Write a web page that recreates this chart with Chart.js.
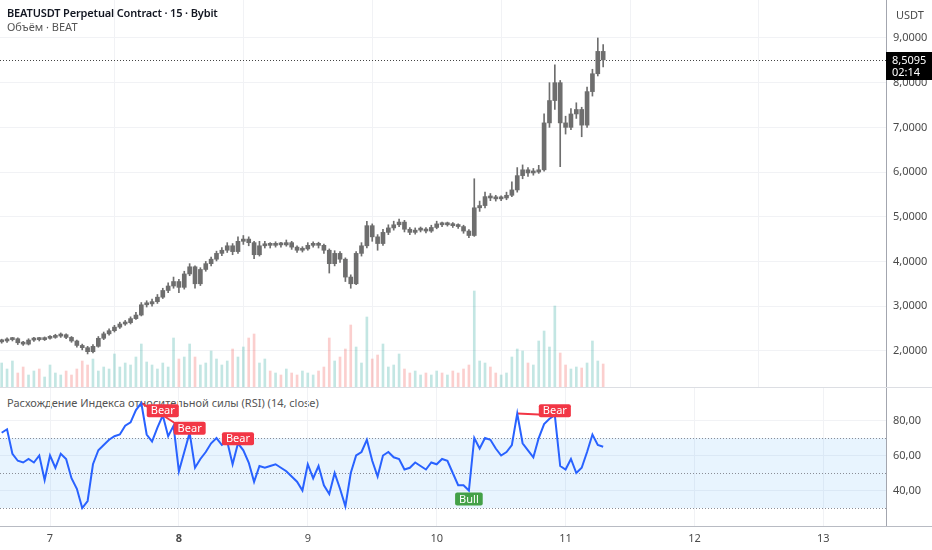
<!DOCTYPE html>
<html lang="ru">
<head>
<meta charset="UTF-8">
<title>BEATUSDT · 15 · Bybit</title>
<style>
  body { margin: 0; background: #fff; width: 932px; height: 550px; overflow: hidden; position: relative; font-family: "Noto Sans", sans-serif; }
  canvas { position: absolute; left: 0; }
  #pricePane { top: 0; }
  #rsiPane { top: 387px; z-index: 2; }
  .legend { position: absolute; left: 7px; font-size: 11px; color: #555; white-space: nowrap; }
  .title { top: 5px; color: #131722; font-weight: 600; letter-spacing: -0.15px; }
  .vol { top: 19px; }
  .rsi { top: 395px; z-index: 1; }
  .unit { position: absolute; left: 896px; top: 7px; font-size: 11px; color: #4a4a4a; }
</style>
<script src="https://cdn.jsdelivr.net/npm/chart.js"></script>
</head>
<body>
<canvas id="pricePane" width="932" height="387"></canvas>
<canvas id="rsiPane" width="932" height="163"></canvas>
<div class="legend title">BEATUSDT Perpetual Contract · 15 · Bybit</div>
<div class="legend vol">Объём · BEAT</div>
<div class="legend rsi">Расхождение Индекса относительной силы (RSI) (14, close)</div>
<div class="unit">USDT</div>

<script>
// свечи по часу, первая — 6-го в 15:00
const startDay = 6.625;
const stepDay = 1 / 24;
const firstOpen = 2.20;

const closePrices = [
  2.22, 2.25, 2.27, 2.18, 2.15, 2.24, 2.27, 2.25, 2.28, 2.30,
  2.33, 2.36, 2.30, 2.22, 2.12, 2.07, 1.98, 2.10, 2.28, 2.38,
  2.45, 2.53, 2.60, 2.63, 2.72, 2.80, 3.03, 3.05, 3.10, 3.20,
  3.35, 3.45, 3.55, 3.42, 3.72, 3.88, 3.50, 3.82, 3.95, 4.05,
  4.18, 4.25, 4.35, 4.22, 4.45, 4.50, 4.42, 4.15, 4.35, 4.38,
  4.36, 4.38, 4.37, 4.42, 4.32, 4.25, 4.28, 4.36, 4.38, 4.36,
  4.25, 3.95, 4.18, 4.05, 3.65, 3.50, 4.18, 4.35, 4.80, 4.55,
  4.40, 4.65, 4.75, 4.82, 4.88, 4.72, 4.65, 4.70, 4.72, 4.68,
  4.76, 4.84, 4.82, 4.84, 4.80, 4.78, 4.68, 4.58, 5.20, 5.25,
  5.45, 5.42, 5.40, 5.42, 5.48, 5.60, 5.92, 6.05, 5.98, 6.00,
  6.05, 7.10, 7.60, 8.00, 7.10, 7.00, 7.30, 7.40, 7.05, 7.80,
  8.20, 8.70, 8.51
];
const highPrices = [
  2.26, 2.29, 2.30, 2.29, 2.21, 2.27, 2.30, 2.30, 2.31, 2.34,
  2.37, 2.40, 2.38, 2.32, 2.24, 2.15, 2.10, 2.14, 2.32, 2.42,
  2.49, 2.57, 2.64, 2.68, 2.76, 2.86, 3.08, 3.12, 3.16, 3.26,
  3.40, 3.52, 3.65, 3.60, 3.78, 3.95, 3.90, 3.86, 4.00, 4.10,
  4.23, 4.31, 4.42, 4.40, 4.55, 4.58, 4.55, 4.45, 4.45, 4.45,
  4.42, 4.44, 4.43, 4.48, 4.45, 4.35, 4.33, 4.42, 4.44, 4.43,
  4.39, 4.28, 4.24, 4.22, 4.08, 3.70, 4.22, 4.42, 4.90, 4.84,
  4.60, 4.72, 4.82, 4.90, 4.95, 4.92, 4.76, 4.75, 4.77, 4.76,
  4.81, 4.90, 4.88, 4.88, 4.87, 4.84, 4.81, 4.71, 5.85, 5.35,
  5.55, 5.52, 5.48, 5.47, 5.55, 5.78, 6.10, 6.16, 6.10, 6.08,
  6.15, 7.30, 8.00, 8.40, 8.05, 7.25, 7.42, 7.55, 7.45, 7.90,
  8.30, 9.00, 8.85
];
const lowPrices = [
  2.17, 2.19, 2.22, 2.14, 2.12, 2.13, 2.21, 2.22, 2.23, 2.26,
  2.28, 2.30, 2.27, 2.19, 2.08, 2.02, 1.93, 1.95, 2.08, 2.25,
  2.35, 2.42, 2.50, 2.57, 2.60, 2.70, 2.78, 2.98, 3.00, 3.06,
  3.17, 3.30, 3.40, 3.30, 3.38, 3.68, 3.40, 3.46, 3.78, 3.90,
  4.01, 4.13, 4.20, 4.15, 4.18, 4.38, 4.35, 4.06, 4.12, 4.30,
  4.30, 4.32, 4.32, 4.34, 4.27, 4.20, 4.21, 4.25, 4.32, 4.30,
  4.18, 3.74, 3.90, 3.98, 3.55, 3.40, 3.48, 4.12, 4.30, 4.45,
  4.25, 4.36, 4.60, 4.70, 4.78, 4.66, 4.60, 4.61, 4.66, 4.64,
  4.65, 4.73, 4.78, 4.79, 4.76, 4.74, 4.63, 4.53, 4.56, 5.12,
  5.20, 5.36, 5.35, 5.36, 5.38, 5.45, 5.55, 5.85, 5.90, 5.93,
  5.97, 6.02, 7.00, 7.40, 6.12, 6.85, 6.95, 7.20, 6.79, 7.00,
  7.70, 8.15, 8.35
];
// объём, млн BEAT
const volumes = [
  2.4, 1.8, 2.6, 1.4, 2.0, 1.2, 1.6, 1.8, 1.0, 2.2,
  1.4, 1.2, 1.6, 1.2, 1.8, 2.6, 2.2, 2.8, 1.6, 2.0,
  1.8, 3.3, 2.0, 2.4, 2.2, 3.0, 4.3, 2.5, 2.2, 1.8,
  2.4, 2.0, 4.9, 2.8, 3.0, 4.3, 3.0, 2.2, 2.4, 3.6,
  2.8, 2.2, 2.6, 3.8, 3.0, 4.0, 4.9, 5.3, 2.4, 2.8,
  1.6, 1.4, 1.2, 1.8, 1.4, 1.2, 1.6, 1.4, 1.2, 1.6,
  2.0, 4.9, 2.6, 3.0, 3.8, 6.2, 4.0, 2.4, 7.0, 2.8,
  3.2, 4.3, 2.0, 2.2, 3.3, 1.8, 1.4, 1.6, 1.2, 1.4,
  1.2, 1.6, 1.4, 1.2, 1.6, 1.4, 1.8, 2.2, 9.6, 2.6,
  2.4, 2.0, 1.4, 1.2, 1.4, 3.0, 3.8, 3.6, 2.4, 2.2,
  4.6, 5.6, 4.0, 8.1, 3.4, 2.2, 1.8, 2.0, 1.9, 2.4,
  4.6, 2.6, 2.3
];
const rsiValues = [
  73, 75, 61, 57, 56, 58, 56, 60, 46, 60,
  53, 61, 58, 47, 41, 30, 34, 55, 63, 66,
  69, 71, 72, 77, 79, 86, 90, 72, 68, 76,
  83, 71, 77, 51, 62, 73, 53, 58, 62, 67,
  70, 66, 68, 55, 67, 63, 56, 45, 54, 53,
  54, 55, 53, 51, 48, 45, 40, 55, 47, 54,
  43, 38, 50, 41, 31, 50, 60, 62, 69, 57,
  48, 60, 62, 59, 58, 52, 53, 56, 54, 52,
  56, 55, 58, 57, 50, 43, 43, 40, 70, 64,
  70, 69, 64, 60, 62, 66, 84, 67, 63, 59,
  70, 78, 81, 83, 54, 52, 58, 50, 53, 62,
  72, 66, 65
];

const dayTicks = [7, 8, 9, 10, 11, 12, 13];
const priceTicks = [2, 3, 4, 5, 6, 7, 8, 9];
const rsiTicks = [40, 60, 80];
const rsiLevels = [70, 50, 30];
const lastPrice = 8.5095;
const lastPriceTimer = '02:14';
// дивергенции: индексы свечей
const bearLines = [[26, 30], [30, 35], [96, 103]];
const bearLabels = [30, 35, 44, 103];
const bullLabels = [87];

const FONT = '"Noto Sans", sans-serif';
const AXIS_W = 46;
const GRID = '#f1f2f5';
const AXIS_LINE = '#a3a6af';
const TXT = '#4a4a4a';
const dayMin = 6.612, dayMax = 13.486;

const days = closePrices.map((_, i) => startDay + i * stepDay);
const opens = closePrices.map((c, i) => i === 0 ? firstOpen : closePrices[i - 1]);
const fmt = (v, n) => v.toFixed(n).replace('.', ',');

// без автоматических отступов под подписи крайних делений
const noPadX = s => { s.paddingLeft = 0; s.paddingRight = 0; };
const noPadY = s => { s.paddingTop = 0; s.paddingBottom = 0; s.width = AXIS_W; };

// ---------- верхняя панель: свечи + объём ----------
const priceOverlay = {
  id: 'priceOverlay',
  beforeDatasetsDraw(chart) {
    const { ctx, chartArea } = chart;
    const y = chart.scales.y.getPixelForValue(lastPrice);
    ctx.save();
    ctx.strokeStyle = '#444';
    ctx.lineWidth = 1;
    ctx.setLineDash([1, 2]);
    ctx.beginPath();
    ctx.moveTo(chartArea.left, Math.round(y) + 0.5);
    ctx.lineTo(chartArea.right, Math.round(y) + 0.5);
    ctx.stroke();
    ctx.restore();
  },
  afterDraw(chart) {
    const { ctx, chartArea } = chart;
    const y = chart.scales.y.getPixelForValue(lastPrice);
    ctx.save();
    ctx.fillStyle = '#000';
    ctx.fillRect(chartArea.right, Math.round(y) - 8, AXIS_W, 28);
    ctx.fillStyle = '#fff';
    ctx.font = '11px ' + FONT;
    ctx.textBaseline = 'middle';
    ctx.fillText(fmt(lastPrice, 4), chartArea.right + 6, Math.round(y) + 1);
    ctx.fillText(lastPriceTimer, chartArea.right + 6, Math.round(y) + 13);
    ctx.restore();
  }
};

new Chart(document.getElementById('pricePane'), {
  data: {
    datasets: [
      {
        type: 'bar', yAxisID: 'yv', grouped: false, order: 3,
        data: volumes.map((v, i) => ({ x: days[i], y: v })),
        backgroundColor: closePrices.map((c, i) => c >= opens[i] ? 'rgba(38,166,154,0.28)' : 'rgba(239,83,80,0.28)'),
        barThickness: 2
      },
      {
        type: 'bar', yAxisID: 'y', grouped: false, order: 2,
        data: highPrices.map((h, i) => ({ x: days[i], y: [lowPrices[i], h] })),
        backgroundColor: '#6e6e6e',
        barThickness: 1
      },
      {
        type: 'bar', yAxisID: 'y', grouped: false, order: 1,
        data: closePrices.map((c, i) => ({ x: days[i], y: [opens[i], c] })),
        backgroundColor: '#6e6e6e',
        barThickness: 4,
        minBarLength: 2
      }
    ]
  },
  options: {
    responsive: false,
    animation: false,
    layout: { padding: 0 },
    plugins: { legend: { display: false }, tooltip: { enabled: false } },
    scales: {
      x: {
        type: 'linear', min: dayMin, max: dayMax, offset: false,
        afterBuildTicks: s => { s.ticks = dayTicks.map(v => ({ value: v })); },
        afterFit: s => { noPadX(s); s.height = 0; },
        ticks: { display: false },
        grid: { color: GRID, drawTicks: false },
        border: { display: false }
      },
      y: {
        position: 'right', min: 1.19, max: 9.85,
        afterBuildTicks: s => { s.ticks = priceTicks.map(v => ({ value: v })); },
        afterFit: noPadY,
        ticks: { callback: v => fmt(v, 4), padding: 7, color: TXT, font: { family: FONT, size: 11 } },
        grid: { color: GRID, drawTicks: false },
        border: { display: true, color: AXIS_LINE }
      },
      yv: { display: false, min: 0, max: 38.7 }
    }
  },
  plugins: [priceOverlay]
});

// ---------- нижняя панель: RSI ----------
function drawTag(ctx, text, cx, top, bg) {
  ctx.font = '11px ' + FONT;
  const w = ctx.measureText(text).width + 8, h = 13;
  ctx.fillStyle = bg;
  ctx.beginPath();
  ctx.roundRect(cx - w / 2, top, w, h, 2);
  ctx.fill();
  ctx.fillStyle = '#fff';
  ctx.textAlign = 'center';
  ctx.textBaseline = 'middle';
  ctx.fillText(text, cx, top + h / 2 + 0.5);
}

const rsiOverlay = {
  id: 'rsiOverlay',
  beforeDatasetsDraw(chart) {
    const { ctx, chartArea } = chart;
    const y = chart.scales.y;
    ctx.save();
    ctx.fillStyle = 'rgba(33,150,243,0.1)';
    const top = y.getPixelForValue(rsiLevels[0]), bot = y.getPixelForValue(rsiLevels[2]);
    ctx.fillRect(chartArea.left, top, chartArea.right - chartArea.left, bot - top);
    ctx.strokeStyle = '#8a8d96';
    ctx.lineWidth = 1;
    ctx.setLineDash([1, 2]);
    rsiLevels.forEach(l => {
      const py = Math.round(y.getPixelForValue(l)) + 0.5;
      ctx.beginPath();
      ctx.moveTo(chartArea.left, py);
      ctx.lineTo(chartArea.right, py);
      ctx.stroke();
    });
    ctx.restore();
  },
  afterDatasetsDraw(chart) {
    const { ctx } = chart;
    const x = chart.scales.x, y = chart.scales.y;
    ctx.save();
    bearLabels.forEach(i => {
      drawTag(ctx, 'Bear', x.getPixelForValue(days[i]), y.getPixelForValue(rsiValues[i]) - 11, '#f23645');
    });
    bullLabels.forEach(i => {
      drawTag(ctx, 'Bull', x.getPixelForValue(days[i]), y.getPixelForValue(rsiValues[i]) + 2, '#43a047');
    });
    ctx.restore();
  },
  afterDraw(chart) {
    const { ctx, chartArea, width } = chart;
    ctx.save();
    ctx.fillStyle = '#dcdee3';
    ctx.fillRect(0, 0, width, 1);
    ctx.fillStyle = '#b8bbc3';
    ctx.fillRect(0, Math.round(chartArea.bottom), width, 1);
    ctx.restore();
  }
};

new Chart(document.getElementById('rsiPane'), {
  data: {
    datasets: [
      {
        type: 'line', order: 1,
        data: rsiValues.map((v, i) => ({ x: days[i], y: v })),
        borderColor: '#2962ff', borderWidth: 2, pointRadius: 0, tension: 0
      },
      ...bearLines.map(([a, b]) => ({
        type: 'line', order: 2,
        data: [{ x: days[a], y: rsiValues[a] }, { x: days[b], y: rsiValues[b] }],
        borderColor: '#f23645', borderWidth: 2, pointRadius: 0
      }))
    ]
  },
  options: {
    responsive: false,
    animation: false,
    layout: { padding: { top: 1 } },
    plugins: { legend: { display: false }, tooltip: { enabled: false } },
    scales: {
      x: {
        type: 'linear', min: dayMin, max: dayMax, offset: false,
        afterBuildTicks: s => { s.ticks = dayTicks.map(v => ({ value: v })); },
        afterFit: s => { noPadX(s); s.height = 24; },
        ticks: {
          callback: v => String(v), padding: 6, color: TXT, maxRotation: 0,
          font: c => ({ family: FONT, size: 11, weight: c.tick && c.tick.value === 8 ? 'bold' : 'normal' })
        },
        grid: { color: GRID, drawTicks: false },
        border: { display: false }
      },
      y: {
        position: 'right', min: 19.7, max: 98.6,
        afterBuildTicks: s => { s.ticks = rsiTicks.map(v => ({ value: v })); },
        afterFit: noPadY,
        ticks: { callback: v => fmt(v, 2), padding: 7, color: TXT, font: { family: FONT, size: 11 } },
        grid: { color: GRID, drawTicks: false },
        border: { display: true, color: AXIS_LINE }
      }
    }
  },
  plugins: [rsiOverlay]
});
</script>
</body>
</html>
